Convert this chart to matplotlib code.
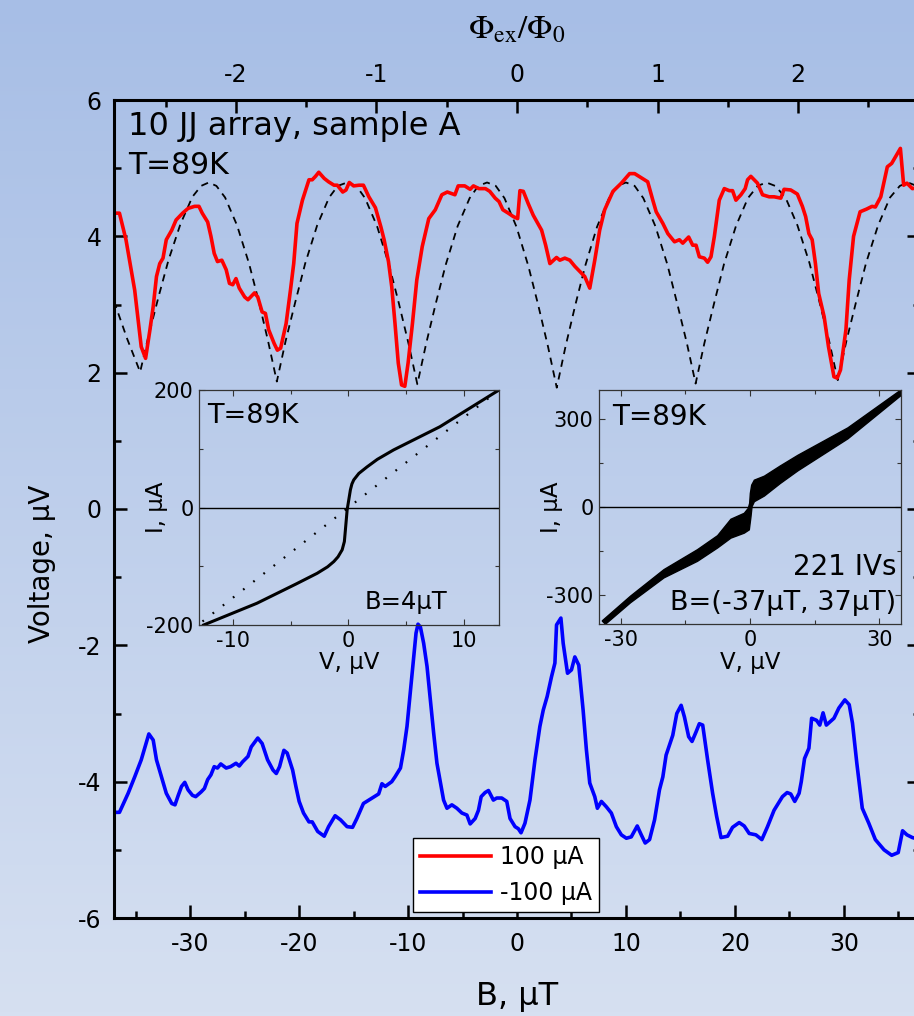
import numpy as np
import matplotlib
matplotlib.use('Agg')
import matplotlib.pyplot as plt
from matplotlib.ticker import MultipleLocator, FixedLocator

plt.rcParams['font.family'] = 'DejaVu Sans'
plt.rcParams['mathtext.fontset'] = 'stix'
plt.rcParams['axes.unicode_minus'] = False

# main panel: voltage vs field, +100 uA (red) and -100 uA (blue)
red_b = [-36.8, -36.5, -35.9, -35.1, -34.5, -34.1, -33.7, -33.4, -33.1, -32.8, -32.5, -32.2,
         -31.7, -31.3, -30.7, -30.2, -29.6, -29.2, -28.9, -28.4, -28.1, -27.8, -27.5, -27.1,
         -26.7, -26.4, -26.1, -25.8, -25.5, -25.0, -24.7, -24.1, -23.8, -23.4, -23.1, -22.8,
         -22.3, -22.0, -21.7, -21.2, -20.8, -20.5, -20.2, -19.7, -19.1, -18.8, -18.5, -18.2,
         -17.7, -17.3, -16.8, -16.5, -16.0, -15.7, -15.4, -15.0, -14.5, -14.1, -13.6, -13.0,
         -12.5, -12.2, -11.8, -11.5, -11.2, -10.9, -10.6, -10.3, -10.0, -9.6, -9.2, -8.7,
         -8.1, -7.5, -6.9, -6.4, -5.7, -5.4, -4.8, -4.3, -4.0, -3.5, -2.9, -2.5,
         -2.0, -1.65, -1.3, -0.8, -0.34, 0.06, 0.27, 0.58, 1.03, 1.49, 2.26, 2.63,
         3.02, 3.63, 3.93, 4.39, 4.85, 5.31, 5.92, 6.22, 6.68, 7.14, 7.59, 8.05,
         8.81, 9.58, 10.34, 10.8, 11.3, 12.0, 12.47, 12.78, 13.39, 13.85, 14.46, 14.91,
         15.22, 15.76, 16.13, 16.44, 16.74, 17.2, 17.5, 17.81, 18.12, 18.57, 19.03, 19.49,
         19.79, 20.1, 20.56, 20.95, 21.17, 21.47, 22.08, 22.54, 23.15, 23.61, 24.22, 24.52,
         25.13, 25.74, 26.2, 26.5, 26.8, 27.1, 27.4, 27.7, 28.2, 28.6, 29.1, 29.4,
         29.7, 30.2, 30.5, 30.9, 31.5, 32.1, 32.6, 32.9, 33.4, 34.0, 34.4, 35.2,
         35.5, 35.8, 36.3, 37.0]
red_v = [4.34, 4.34, 3.95, 3.21, 2.38, 2.21, 2.63, 2.97, 3.41, 3.60, 3.68, 3.95,
         4.09, 4.24, 4.34, 4.41, 4.44, 4.44, 4.34, 4.21, 4.00, 3.75, 3.63, 3.65,
         3.51, 3.31, 3.29, 3.38, 3.24, 3.11, 3.07, 3.17, 3.11, 2.89, 2.87, 2.63,
         2.43, 2.33, 2.36, 2.72, 3.21, 3.60, 4.19, 4.53, 4.83, 4.83, 4.88, 4.94,
         4.85, 4.80, 4.75, 4.75, 4.65, 4.68, 4.79, 4.74, 4.75, 4.75, 4.58, 4.42,
         4.14, 3.95, 3.63, 3.26, 2.72, 2.14, 1.82, 1.80, 2.14, 2.72, 3.36, 3.85,
         4.26, 4.39, 4.61, 4.65, 4.61, 4.74, 4.74, 4.69, 4.74, 4.70, 4.70, 4.66,
         4.56, 4.51, 4.39, 4.34, 4.29, 4.26, 4.67, 4.66, 4.48, 4.31, 4.09, 3.87,
         3.60, 3.69, 3.65, 3.68, 3.65, 3.56, 3.46, 3.41, 3.24, 3.65, 4.09, 4.39,
         4.66, 4.78, 4.92, 4.92, 4.87, 4.80, 4.53, 4.36, 4.19, 4.04, 3.92, 3.95,
         3.90, 3.99, 3.87, 3.87, 3.70, 3.68, 3.62, 3.70, 4.00, 4.53, 4.70, 4.67,
         4.67, 4.53, 4.61, 4.70, 4.83, 4.88, 4.78, 4.61, 4.58, 4.58, 4.56, 4.69,
         4.68, 4.62, 4.44, 4.29, 4.04, 3.95, 3.60, 3.16, 2.82, 2.38, 1.94, 1.92,
         2.04, 2.63, 3.36, 4.00, 4.36, 4.40, 4.44, 4.43, 4.58, 5.02, 5.07, 5.29,
         4.75, 4.78, 4.70, 4.72]

blue_b = [-36.8, -36.5, -35.7, -35.1, -34.5, -33.8, -33.4, -33.1, -32.7, -32.2, -31.7, -31.4,
          -31.1, -30.8, -30.5, -30.2, -29.8, -29.5, -29.0, -28.7, -28.4, -28.1, -27.8, -27.5,
          -27.2, -26.7, -26.3, -25.8, -25.5, -25.2, -24.7, -24.4, -23.8, -23.4, -22.9, -22.4,
          -22.1, -21.8, -21.4, -21.1, -20.6, -20.3, -20.0, -19.6, -19.1, -18.8, -18.3, -17.7,
          -17.3, -16.7, -16.2, -15.6, -15.1, -14.7, -14.1, -13.8, -13.1, -12.7, -12.4, -12.1,
          -11.5, -11.2, -10.7, -10.4, -10.1, -9.8, -9.5, -9.27, -9.09, -8.87, -8.57, -8.26,
          -7.96, -7.65, -7.35, -7.04, -6.74, -6.43, -5.98, -5.52, -5.06, -4.60, -4.30, -3.84,
          -3.54, -3.29, -2.93, -2.62, -2.17, -1.86, -1.40, -0.94, -0.64, -0.18, 0.12, 0.37,
          0.73, 1.19, 1.65, 2.10, 2.41, 2.77, 3.17, 3.48, 3.63, 4.03, 4.24, 4.64,
          5.0, 5.31, 5.67, 6.07, 6.37, 6.68, 7.14, 7.38, 7.75, 8.21, 8.66, 9.12,
          9.58, 10.04, 10.49, 11.04, 11.41, 11.77, 12.17, 12.63, 13.08, 13.39, 13.69, 14.30,
          14.67, 15.07, 15.37, 15.76, 16.07, 16.44, 16.74, 17.05, 17.50, 17.96, 18.33, 18.73,
          19.34, 19.79, 20.40, 20.86, 21.32, 21.93, 22.48, 23.0, 23.6, 24.37, 24.8, 25.13,
          25.5, 25.9, 26.1, 26.4, 26.8, 27.05, 27.5, 27.8, 28.1, 28.4, 29.1, 29.55,
          30.1, 30.5, 30.8, 31.2, 31.7, 32.3, 32.9, 33.7, 34.4, 35.0, 35.4, 35.8,
          36.3, 37.0]
blue_v = [-4.45, -4.45, -4.17, -3.93, -3.68, -3.30, -3.39, -3.68, -3.90, -4.17, -4.32, -4.34,
          -4.20, -4.07, -4.01, -4.12, -4.20, -4.22, -4.15, -4.10, -3.97, -3.90, -3.78, -3.80,
          -3.74, -3.80, -3.78, -3.73, -3.77, -3.71, -3.63, -3.49, -3.36, -3.44, -3.68, -3.83,
          -3.88, -3.78, -3.54, -3.58, -3.83, -4.07, -4.29, -4.46, -4.59, -4.59, -4.73, -4.80,
          -4.66, -4.50, -4.56, -4.66, -4.67, -4.54, -4.32, -4.29, -4.22, -4.18, -4.03, -4.07,
          -4.00, -3.93, -3.80, -3.53, -3.19, -2.70, -2.21, -1.82, -1.69, -1.73, -1.97, -2.31,
          -2.80, -3.29, -3.73, -4.00, -4.27, -4.39, -4.34, -4.39, -4.46, -4.49, -4.62, -4.54,
          -4.42, -4.22, -4.16, -4.13, -4.27, -4.24, -4.24, -4.29, -4.54, -4.66, -4.69, -4.75,
          -4.61, -4.27, -3.68, -3.19, -2.95, -2.75, -2.46, -2.26, -1.70, -1.60, -1.97, -2.41,
          -2.36, -2.17, -2.29, -2.95, -3.53, -4.02, -4.22, -4.39, -4.29, -4.37, -4.46, -4.66,
          -4.78, -4.83, -4.81, -4.65, -4.78, -4.90, -4.85, -4.56, -4.12, -3.93, -3.61, -3.32,
          -3.00, -2.88, -3.05, -3.34, -3.41, -3.27, -3.15, -3.17, -3.68, -4.17, -4.51, -4.82,
          -4.80, -4.67, -4.60, -4.65, -4.76, -4.78, -4.85, -4.66, -4.42, -4.22, -4.16, -4.18,
          -4.29, -4.17, -4.00, -3.66, -3.51, -3.07, -3.10, -3.17, -2.99, -3.17, -3.07, -2.92,
          -2.80, -2.87, -3.14, -3.73, -4.39, -4.61, -4.85, -5.00, -5.08, -5.04, -4.72, -4.78,
          -4.82, -4.85]

# dashed model curve
model_b = [-37.0, -35.8, -34.6, -33.8, -32.9, -32.0, -30.9, -29.8, -29.0, -28.3, -27.6, -26.8,
           -25.7, -24.6, -23.7, -22.85, -22.05, -21.25, -20.35, -19.45, -18.35, -17.25, -16.45, -15.6,
           -14.75, -13.95, -12.85, -11.75, -10.85, -9.95, -9.15, -8.35, -7.45, -6.55, -5.45, -4.35,
           -3.55, -2.75, -1.95, -1.15, -0.05, 1.05, 1.95, 2.85, 3.65, 4.45, 5.35, 6.25,
           7.35, 8.45, 9.25, 10.0, 10.8, 11.6, 12.7, 13.8, 14.7, 15.6, 16.4, 17.2,
           18.1, 19.0, 20.1, 21.2, 22.1, 22.9, 23.7, 24.65, 25.75, 26.85, 27.75, 28.65,
           29.45, 30.25, 31.15, 32.05, 33.15, 34.25, 35.15, 35.9, 37.0]
model_v = [3.05, 2.50, 2.01, 2.56, 3.12, 3.65, 4.18, 4.58, 4.74, 4.79, 4.74, 4.57,
           4.16, 3.60, 3.04, 2.46, 1.87, 2.46, 3.04, 3.60, 4.16, 4.57, 4.74, 4.79,
           4.74, 4.56, 4.15, 3.58, 3.02, 2.42, 1.83, 2.42, 3.02, 3.58, 4.15, 4.56,
           4.74, 4.79, 4.74, 4.56, 4.14, 3.56, 2.99, 2.38, 1.78, 2.38, 2.99, 3.56,
           4.14, 4.56, 4.74, 4.79, 4.74, 4.56, 4.15, 3.59, 3.02, 2.43, 1.84, 2.43,
           3.02, 3.59, 4.15, 4.56, 4.74, 4.79, 4.74, 4.57, 4.16, 3.61, 3.05, 2.47,
           1.89, 2.47, 3.05, 3.61, 4.16, 4.57, 4.74, 4.79, 4.72]

# inset 1: single IV at B=4 uT
iv_v = [-12.5, -7.9, -4.5, -2.7, -1.8, -1.26, -0.9, -0.54, -0.35, -0.26, -0.11, 0.03,
        0.17, 0.3, 0.46, 0.9, 1.6, 2.5, 3.9, 7.9, 13.0]
iv_i = [-200, -163, -130, -112, -101, -92, -84, -72, -58, -38, -4, 13,
        30, 40, 47, 58, 69, 82, 98, 137.5, 200]
ohm_v = [-12.6, 13.0]
ohm_i = [-194, 200]

# inset 2: envelope of 221 IVs
band_up_v = [-34.26, -27.67, -19.92, -12.17, -7.5, -4.42, -1.32, -0.39, -0.08, 0.08, 0.39, 1.01,
             3.33, 7.0, 11.09, 22.71, 34.96]
band_up_i = [-389.5, -304.6, -214, -146, -98, -41.9, -21.5, -4.5, 12.5, 46.4, 74.7, 91.7,
             105.3, 140, 176.6, 270.6, 399.7]
band_lo_v = [-33.49, -27.67, -19.92, -12.17, -7.5, -4.42, -1.32, -0.16, 0.23, 0.47, 1.01, 3.33,
             7.0, 11.09, 22.71, 34.96]
band_lo_i = [-400.8, -327.2, -242.3, -185.7, -140, -106.4, -89.4, -78.1, -32.8, 1.1, 18.1, 37.4,
             80, 123.4, 233.2, 380.4]

fig = plt.figure(figsize=(9.14, 10.16), dpi=100)

# background gradient
bg = fig.add_axes([0, 0, 1, 1], zorder=-10)
t = np.linspace(0, 1, 256)[:, None, None]
c_top = np.array([167, 190, 230]) / 255
c_bot = np.array([214, 224, 241]) / 255
bg.imshow(c_top + (c_bot - c_top) * t, aspect='auto', extent=[0, 1, 0, 1])
bg.axis('off')

ax = fig.add_axes([114 / 914, 98 / 1016, 806 / 914, 818 / 1016])
ax.patch.set_alpha(0)
ax.plot(model_b, model_v, color='black', lw=1.3, dashes=(4, 3.2))
ax.plot(red_b, red_v, color='#ff0000', lw=2.6, label='100 μA')
ax.plot(blue_b, blue_v, color='#0000ff', lw=2.6, label='-100 μA')
ax.set_xlim(-37, 37)
ax.set_ylim(-6, 6)
ax.xaxis.set_major_locator(MultipleLocator(10))
ax.xaxis.set_minor_locator(MultipleLocator(5))
ax.yaxis.set_major_locator(MultipleLocator(2))
ax.yaxis.set_minor_locator(MultipleLocator(1))
ax.tick_params(which='both', direction='in', right=True, top=False, width=1.8, labelsize=17)
ax.tick_params(which='major', length=9.5)
ax.tick_params(which='minor', length=5)
ax.tick_params(axis='x', pad=10)
ax.tick_params(axis='y', pad=9)
for s in ax.spines.values():
    s.set_linewidth(2.2)
ax.set_xlabel('B, μT', fontsize=23)
ax.set_ylabel('Voltage, μV', fontsize=20)
ax.xaxis.set_label_coords(0.5, -0.077)
ax.yaxis.set_label_coords(-0.072, 0.433)

sec = ax.secondary_xaxis('top', functions=(lambda b: b / 12.9, lambda p: p * 12.9))
sec.xaxis.set_major_locator(FixedLocator([-2, -1, 0, 1, 2]))
sec.xaxis.set_minor_locator(FixedLocator([-2.5, -1.5, -0.5, 0.5, 1.5, 2.5]))
sec.tick_params(which='both', direction='in', width=1.8, labelsize=17, pad=9)
sec.tick_params(which='major', length=9.5)
sec.tick_params(which='minor', length=5)
sec.set_xlabel(r'$\Phi_{\rm ex}/\Phi_0$', fontsize=24, labelpad=18)

ax.text(0.0174, 0.967, '10 JJ array, sample A', transform=ax.transAxes,
        fontsize=23, va='center', ha='left')
ax.text(0.0174, 0.9205, 'T=89K', transform=ax.transAxes, fontsize=21.5, va='center', ha='left')

leg = ax.legend(loc='upper left', bbox_to_anchor=(413 / 914, 1 - 838 / 1016),
                bbox_transform=fig.transFigure, fontsize=17, frameon=True, fancybox=False,
                edgecolor='black', framealpha=1, borderaxespad=0, handlelength=3.0,
                handletextpad=0.4, labelspacing=0.5, borderpad=0.3)
leg.get_frame().set_linewidth(1.0)


def style_inset(a):
    a.patch.set_alpha(0)
    for s in a.spines.values():
        s.set_linewidth(0.9)
        s.set_color('#333333')
    a.tick_params(which='both', direction='in', top=True, right=True, width=0.8,
                  labelsize=15, pad=4, color='#333333')
    a.tick_params(which='major', length=4)
    a.tick_params(which='minor', length=3)
    a.axhline(0, color='black', lw=1.0)


# inset 1
ax1 = fig.add_axes([199 / 914, (1016 - 625) / 1016, 300 / 914, 235 / 1016])
style_inset(ax1)
ax1.plot(ohm_v, ohm_i, color='black', lw=1.6, linestyle=(0, (0.8, 5)))
ax1.plot(iv_v, iv_i, color='black', lw=2.2)
ax1.set_xlim(-12.9, 13)
ax1.set_ylim(-200, 200)
ax1.set_xticks([-10, 0, 10])
ax1.set_yticks([-200, 0, 200])
ax1.xaxis.set_minor_locator(MultipleLocator(5))
ax1.yaxis.set_minor_locator(MultipleLocator(100))
ax1.set_xlabel('V, μV', fontsize=16.5)
ax1.set_ylabel('I, μA', fontsize=16.5)
ax1.xaxis.set_label_coords(0.5, -0.11)
ax1.yaxis.set_label_coords(-0.103, 0.5)
ax1.text(0.026, 0.89, 'T=89K', transform=ax1.transAxes, fontsize=19.5, va='center')
ax1.text(0.689, 0.098, 'B=4μT', transform=ax1.transAxes, fontsize=17.5, va='center', ha='center')

# inset 2
ax2 = fig.add_axes([599 / 914, (1016 - 624) / 1016, 302 / 914, 234 / 1016])
style_inset(ax2)
ax2.fill(band_up_v + band_lo_v[::-1], band_up_i + band_lo_i[::-1], color='black', lw=1.0)
ax2.set_xlim(-35, 35)
ax2.set_ylim(-400, 400)
ax2.set_xticks([-30, 0, 30])
ax2.set_yticks([-300, 0, 300])
ax2.xaxis.set_minor_locator(MultipleLocator(15))
ax2.yaxis.set_minor_locator(MultipleLocator(150))
ax2.set_xlabel('V, μV', fontsize=16.5)
ax2.set_ylabel('I, μA', fontsize=16.5)
ax2.xaxis.set_label_coords(0.5, -0.115)
ax2.yaxis.set_label_coords(-0.118, 0.5)
ax2.text(0.042, 0.886, 'T=89K', transform=ax2.transAxes, fontsize=20, va='center')
ax2.text(0.985, 0.245, '221 IVs', transform=ax2.transAxes, fontsize=20, va='center', ha='right')
ax2.text(0.985, 0.088, 'B=(-37μT, 37μT)', transform=ax2.transAxes, fontsize=19.5,
         va='center', ha='right')

fig.savefig('out.png', dpi=100)
